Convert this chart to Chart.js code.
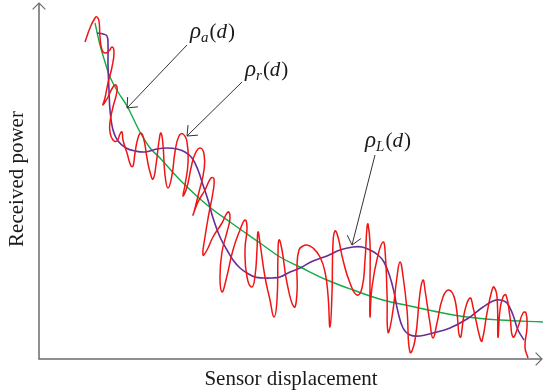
<!DOCTYPE html>
<html>
<head>
<meta charset="utf-8">
<script src="https://cdn.jsdelivr.net/npm/chart.js@4.4.1/dist/chart.umd.min.js"></script>
<style>
  body { margin: 0; background: #fff; }
  #wrap { width: 543px; height: 392px; position: relative; }
</style>
</head>
<body>
<div id="wrap"><canvas id="myChart"></canvas></div>
<script>
// Values (arbitrary units: displacement along x, power along y)

// received signal rho_r(d) - the oscillating red trace (it loops back on itself)
const receivedX = [46, 51, 56, 58, 60, 61, 63, 66, 70, 73, 75, 73, 69, 66, 64, 69, 74, 77, 78, 74,
  71, 71, 74, 78, 81, 83, 84, 88, 92, 94, 96, 99, 102, 105, 108, 111, 114, 117, 120, 122,
  124, 126, 129, 133, 136, 140, 144, 148, 149, 146, 144, 148, 152, 156, 161, 165, 165, 160, 155, 154,
  159, 166, 172, 175, 174, 170, 166, 164, 168, 174, 183, 189, 191, 188, 183, 181, 183, 187, 194, 201,
  206, 208, 206, 208, 213, 216, 218, 219, 221, 226, 231, 235, 238, 239, 240, 243, 248, 255, 258, 258,
  260, 264, 268, 274, 281, 286, 289, 291, 293, 294, 296, 299, 304, 311, 318, 323, 326, 328, 329, 331,
  331, 331, 333, 339, 344, 346, 348, 349, 353, 358, 361, 364, 368, 371, 376, 381, 384, 386, 391, 394,
  398, 404, 410, 416, 421, 426, 431, 434, 441, 443, 448, 453, 455, 458, 459, 461, 464, 467, 471, 474,
  479, 484, 487, 488, 486, 489];
const receivedY = [317, 331, 341, 342, 338, 322, 309, 306, 308, 312, 307, 292, 276, 261, 254, 262, 272, 274, 268, 252,
  237, 227, 219, 218, 225, 227, 219, 206, 193, 193, 206, 221, 226, 219, 201, 187, 180, 194, 218, 226,
  214, 184, 171, 184, 207, 223, 225, 217, 196, 174, 163, 172, 191, 205, 211, 205, 189, 167, 147, 144,
  157, 169, 181, 180, 167, 146, 122, 104, 109, 122, 136, 147, 141, 127, 107, 82, 67, 79, 109, 129,
  139, 131, 109, 82, 72, 83, 109, 127, 116, 82, 59, 42, 59, 104, 119, 109, 76, 52, 66, 92,
  109, 113, 114, 111, 102, 87, 64, 32, 66, 116, 128, 122, 99, 76, 64, 71, 99, 132, 135, 116,
  76, 42, 72, 104, 117, 109, 66, 27, 42, 82, 97, 83, 49, 7, 19, 66, 79, 69, 36, 21,
  36, 62, 69, 59, 22, 49, 61, 52, 21, 18, 46, 69, 72, 62, 22, 49, 62, 64, 42, 22,
  32, 46, 46, 32, 12, 1];

// average path loss rho_a(d) - green
const averageX = [56, 61, 66, 71, 79, 88, 95, 101, 111, 121, 141, 168, 191, 221, 241, 261, 288, 314, 344, 371, 394, 428, 461, 504];
const averageY = [336, 314, 297, 282, 267, 253, 239, 227, 211, 201, 179, 154, 137, 116, 102, 92, 79, 69, 59, 53, 48, 42, 39, 37];

// local mean rho_L(d) - purple
const localX = [58, 64, 68, 69, 69, 70, 71, 74, 79, 87, 96, 106, 118, 128, 138, 146, 153, 159, 164, 169,
  174, 181, 188, 194, 201, 208, 216, 224, 233, 241, 251, 261, 274, 288, 301, 314, 323, 331, 339, 345,
  351, 355, 359, 364, 371, 381, 394, 411, 428, 444, 454, 461, 468, 474, 479, 485];
const localY = [326, 325, 323, 314, 294, 269, 249, 229, 218, 211, 208, 207, 210, 211, 210, 207, 201, 189, 174, 159,
  141, 122, 109, 99, 91, 86, 82, 81, 81, 82, 87, 91, 98, 103, 109, 112, 112, 109, 104, 97,
  82, 67, 47, 31, 24, 23, 26, 31, 40, 52, 58, 59, 56, 44, 29, 19];

// curve labels: text anchor and arrow (from -> to), same units as the data
const labelMain = ['ρ', 'ρ', 'ρ'];
const labelSub = ['a', 'r', 'L'];
const labelX = [151, 206, 326];
const labelY = [321, 283, 212];
const arrowFromX = [148, 203, 336];
const arrowFromY = [314, 277, 204];
const arrowToX = [88, 148, 313];
const arrowToY = [251, 223, 114];

const xTitle = 'Sensor displacement';
const yTitle = 'Received power';

const toPoints = (xs, ys) => xs.map((v, i) => ({ x: v, y: ys[i] }));

function arrowHead(ctx, x1, y1, x2, y2, len, spread) {
    const ang = Math.atan2(y2 - y1, x2 - x1);
    ctx.beginPath();
    ctx.moveTo(x2 - len * Math.cos(ang - spread), y2 - len * Math.sin(ang - spread));
    ctx.lineTo(x2, y2);
    ctx.lineTo(x2 - len * Math.cos(ang + spread), y2 - len * Math.sin(ang + spread));
    ctx.stroke();
}

const serif = '"Liberation Serif", "DejaVu Serif", serif';

const frame = {
    id: 'frame',
    beforeDatasetsDraw(chart) {
        const { ctx, chartArea: a } = chart;
        ctx.save();
        ctx.strokeStyle = '#6b6b6b';
        ctx.lineWidth = 1.5;
        ctx.beginPath();
        ctx.moveTo(a.left, a.top);
        ctx.lineTo(a.left, a.bottom);
        ctx.lineTo(a.right - 1, a.bottom);
        ctx.stroke();
        ctx.lineWidth = 1.2;
        arrowHead(ctx, a.left, a.bottom, a.left, a.top, 9, Math.PI / 4);
        arrowHead(ctx, a.left, a.bottom, a.right - 1, a.bottom, 9, Math.PI / 4);

        // axis titles
        ctx.fillStyle = '#1a1a1a';
        ctx.font = '21px ' + serif;
        ctx.textAlign = 'center';
        ctx.textBaseline = 'alphabetic';
        ctx.fillText(xTitle, 291, a.bottom + 26);
        ctx.translate(a.left - 16, (a.top + a.bottom) / 2 - 2);
        ctx.rotate(-Math.PI / 2);
        ctx.fillText(yTitle, 0, 0);
        ctx.restore();
    },
    afterDatasetsDraw(chart) {
        const { ctx, scales: { x, y } } = chart;
        ctx.save();
        ctx.strokeStyle = '#333';
        ctx.lineWidth = 1;
        for (let i = 0; i < labelMain.length; i++) {
            const x1 = x.getPixelForValue(arrowFromX[i]), y1 = y.getPixelForValue(arrowFromY[i]);
            const x2 = x.getPixelForValue(arrowToX[i]), y2 = y.getPixelForValue(arrowToY[i]);
            ctx.beginPath();
            ctx.moveTo(x1, y1);
            ctx.lineTo(x2, y2);
            ctx.stroke();
            arrowHead(ctx, x1, y1, x2, y2, 11, 0.7);

            // label: rho_sub(d)
            let tx = x.getPixelForValue(labelX[i]);
            const ty = y.getPixelForValue(labelY[i]);
            ctx.fillStyle = '#1a1a1a';
            ctx.textAlign = 'left';
            ctx.font = 'italic 23px ' + serif;
            ctx.fillText(labelMain[i], tx, ty);
            tx += ctx.measureText(labelMain[i]).width;
            ctx.font = 'italic 15px ' + serif;
            ctx.fillText(labelSub[i], tx, ty + 4);
            tx += ctx.measureText(labelSub[i]).width + 1;
            ctx.font = '21px ' + serif;
            ctx.fillText('(', tx, ty);
            tx += ctx.measureText('(').width;
            ctx.font = 'italic 21px ' + serif;
            ctx.fillText('d', tx, ty);
            tx += ctx.measureText('d').width + 1;
            ctx.font = '21px ' + serif;
            ctx.fillText(')', tx, ty);
        }
        ctx.restore();
    }
};

const ctx = document.getElementById('myChart');

new Chart(ctx, {
    type: 'scatter',
    data: {
        datasets: [
            {
                label: 'rho_a',
                data: toPoints(averageX, averageY),
                showLine: true,
                borderColor: 'rgb(20,170,70)',
                borderWidth: 1.4,
                tension: 0.4,
                pointRadius: 0,
                order: 3
            },
            {
                label: 'rho_L',
                data: toPoints(localX, localY),
                showLine: true,
                borderColor: 'rgb(105,45,150)',
                borderWidth: 1.6,
                tension: 0.4,
                pointRadius: 0,
                order: 2
            },
            {
                label: 'rho_r',
                data: toPoints(receivedX, receivedY),
                showLine: true,
                borderColor: 'rgb(240,20,20)',
                borderWidth: 1.5,
                tension: 0.5,
                pointRadius: 0,
                order: 1
            }
        ]
    },
    options: {
        responsive: true,
        maintainAspectRatio: false,
        animation: false,
        layout: { padding: { left: 39, top: 3, right: 0, bottom: 33 } },
        scales: {
            x: { type: 'linear', min: 0, max: 504, display: false },
            y: { type: 'linear', min: 0, max: 356, display: false }
        },
        plugins: {
            legend: { display: false },
            tooltip: { enabled: false }
        }
    },
    plugins: [frame]
});
</script>
</body>
</html>
